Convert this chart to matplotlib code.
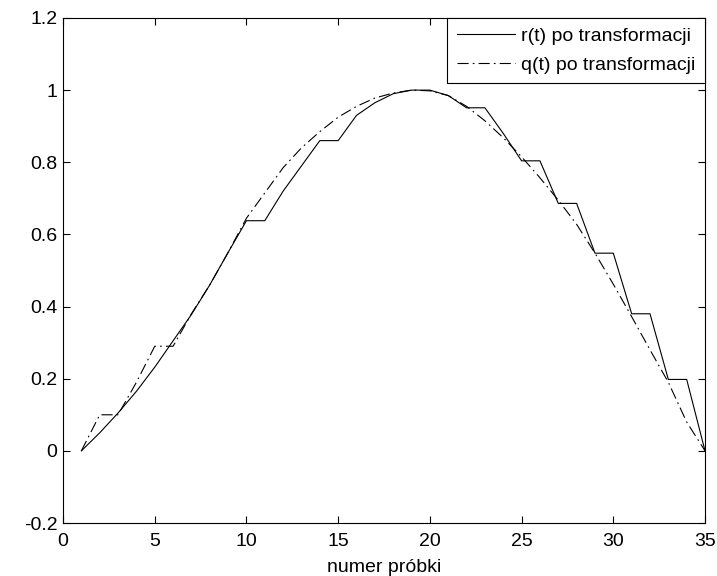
import matplotlib
matplotlib.use("Agg")
import matplotlib.pyplot as plt

# numer próbki (1..35)
samples = list(range(1, 36))

# r(t) po transformacji
r_vals = [0.000, 0.050, 0.105, 0.165, 0.232, 0.305, 0.378, 0.460, 0.550, 0.638,
          0.638, 0.720, 0.790, 0.860, 0.860, 0.930, 0.965, 0.990, 1.000, 1.000,
          0.985, 0.951, 0.951, 0.880, 0.804, 0.804, 0.686, 0.686, 0.548, 0.548,
          0.380, 0.380, 0.198, 0.198, 0.000]

# q(t) po transformacji
q_vals = [0.000, 0.100, 0.100, 0.190, 0.290, 0.290, 0.380, 0.460, 0.550, 0.645,
          0.715, 0.785, 0.840, 0.885, 0.925, 0.955, 0.978, 0.992, 1.000, 0.998,
          0.985, 0.955, 0.915, 0.868, 0.815, 0.757, 0.695, 0.628, 0.548, 0.462,
          0.372, 0.280, 0.190, 0.080, 0.000]

labels = ['r(t) po transformacji', 'q(t) po transformacji']
x_ticks = [0, 5, 10, 15, 20, 25, 30, 35]
y_ticks = [-0.2, 0, 0.2, 0.4, 0.6, 0.8, 1, 1.2]
y_tick_labels = ['-0.2', '0', '0.2', '0.4', '0.6', '0.8', '1', '1.2']

plt.rcParams['font.family'] = ['Liberation Sans', 'DejaVu Sans']
plt.rcParams['font.size'] = 14
plt.rcParams['lines.scale_dashes'] = False

fig = plt.figure(figsize=(7.17, 5.76), dpi=100)
ax = fig.add_axes([0.0879, 0.092, 0.8954, 0.8768])

ax.plot(samples, r_vals, color='black', linewidth=0.8, label=labels[0])
ax.plot(samples, q_vals, color='black', linewidth=0.8,
        linestyle=(0, (8, 3, 1.2, 3)), label=labels[1])

ax.set_xlim(0, 35)
ax.set_ylim(-0.2, 1.2)
ax.set_xticks(x_ticks)
ax.set_xticklabels([str(t) for t in x_ticks])
ax.set_yticks(y_ticks)
ax.set_yticklabels(y_tick_labels)
ax.tick_params(axis='both', direction='in', length=5, width=0.8, top=True, right=True)
ax.tick_params(axis='x', pad=7)
ax.tick_params(axis='y', pad=4)
for sp in ax.spines.values():
    sp.set_linewidth(0.8)

ax.set_xlabel('numer próbki', labelpad=7)

leg = ax.legend(loc='upper right', borderaxespad=0, fancybox=False,
                edgecolor='black', framealpha=1, handlelength=3.0,
                handletextpad=0.3, borderpad=0.5, labelspacing=0.55)
leg.get_frame().set_linewidth(0.8)

fig.savefig('out.png', dpi=100)
